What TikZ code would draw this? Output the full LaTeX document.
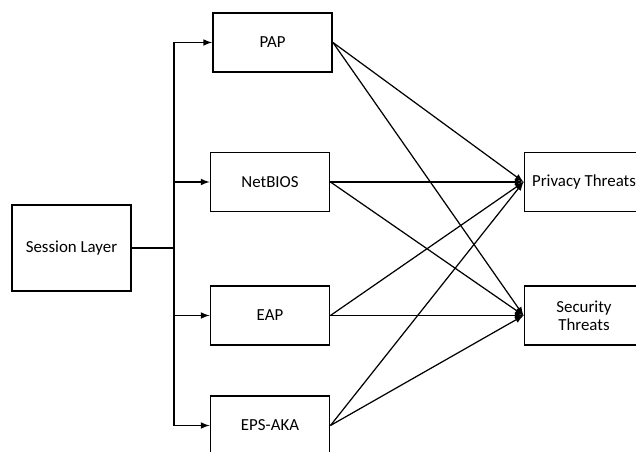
\documentclass[tikz,border=0pt]{standalone}
\usepackage{fontspec}
\setmainfont{Carlito}
\usetikzlibrary{arrows,positioning,calc}

\begin{document}
\begin{tikzpicture}[x=0.02cm,y=-0.02cm]
  \tikzset{align=center,font=\fontsize{9.6}{10.3}\selectfont}
  \tikzset{block/.style = {shape=rectangle,draw,line width=1.1pt,minimum width=2.38cm,minimum height=1.18cm,inner sep=2pt}}
  \tikzset{link/.style = {->,> = latex,line width=0.7pt}}
  \useasboundingbox (0,0) rectangle (636,452);

  \node[block,minimum height=1.72cm] (session) at (71.5,248) {Session Layer};
  \node[block] (pap) at (272.5,42.5) {PAP};
  \node[block] (netbios) at (270,182) {NetBIOS};
  \node[block] (eap) at (270,315.5) {EAP};
  \node[block] (epsaka) at (270,425.5) {EPS-AKA};
  \node[block] (privacy) at (584,182) {Privacy Threats};
  \node[block] (security) at (584,315.5) {Security\\Threats};
  \coordinate (trunk) at (174,248);

  \draw[line width=0.9pt] (session) -- (trunk);
  \draw[link] (trunk) |- (pap);
  \draw[link] (trunk) |- (netbios);
  \draw[link] (trunk) |- (eap);
  \draw[link] (trunk) |- (epsaka);

  \path[every edge/.style={draw,link}]
  (pap.east) edge (privacy.west)
  (pap.east) edge (security.west)
  (netbios.east) edge (privacy.west)
  (netbios.east) edge (security.west)
  (eap.east) edge (privacy.west)
  (eap.east) edge (security.west)
  (epsaka.east) edge (privacy.west)
  (epsaka.east) edge (security.west)
  ;

\end{tikzpicture}
\end{document}
